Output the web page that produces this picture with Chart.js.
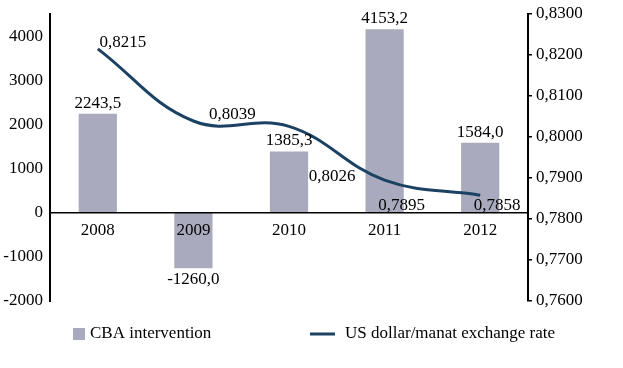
<!DOCTYPE html>
<html>
<head>
<meta charset="utf-8">
<script src="https://cdn.jsdelivr.net/npm/chart.js@4/dist/chart.umd.min.js"></script>
<style>
    html, body { margin: 0; padding: 0; background: #fff; }
    #wrap { width: 623px; height: 368px; }
</style>
</head>
<body>
<div id="wrap"><canvas id="chart"></canvas></div>
<script>
(function () {
    "use strict";

    const years = ["2008", "2009", "2010", "2011", "2012"];
    const intervention = [2243.5, -1260.0, 1385.3, 4153.2, 1584.0];
    const exchangeRate = [0.8215, 0.8039, 0.8026, 0.7895, 0.7858];
    const leftTicks = [-2000, -1000, 0, 1000, 2000, 3000, 4000];
    const rightTicks = [0.76, 0.77, 0.78, 0.79, 0.80, 0.81, 0.82, 0.83];

    // label offsets for the rate labels (moved by hand in the original)
    const rateLabelOffsets = [[25, -6], [39, -6], [43, 50], [17, 25], [17, 10]];

    const barColor = "#a9aabd";
    const lineColor = "#1c4263";
    const font = { family: "'Liberation Serif', 'Times New Roman', serif", size: 17 };
    const cssFont = font.size + "px " + font.family;

    const fmt = (v, d) => v.toFixed(d).replace(".", ",");

    const valueLabels = {
        id: "valueLabels",
        afterDatasetsDraw(chart) {
            const ctx = chart.ctx;
            ctx.save();
            ctx.font = cssFont;
            ctx.fillStyle = "#000";
            ctx.textAlign = "center";

            chart.getDatasetMeta(0).data.forEach((bar, i) => {
                const v = intervention[i];
                if (v >= 0) {
                    ctx.textBaseline = "bottom";
                    ctx.fillText(fmt(v, 1), bar.x, bar.y - 2);
                } else {
                    ctx.textBaseline = "top";
                    ctx.fillText(fmt(v, 1), bar.x, bar.y + 3);
                }
            });

            ctx.textBaseline = "middle";
            chart.getDatasetMeta(1).data.forEach((pt, i) => {
                const off = rateLabelOffsets[i];
                ctx.fillText(fmt(exchangeRate[i], 4), pt.x + off[0], pt.y + off[1]);
            });
            ctx.restore();
        },
    };

    // Legend spaced like the original (too wide for the built-in legend rows)
    const bottomLegend = {
        id: "bottomLegend",
        afterDraw(chart) {
            const ctx = chart.ctx;
            const y = 334;
            const sets = chart.data.datasets;
            ctx.save();
            ctx.font = cssFont;
            ctx.textBaseline = "middle";
            ctx.textAlign = "left";

            ctx.fillStyle = barColor;
            ctx.fillRect(73, y - 6, 12, 12);
            ctx.fillStyle = "#000";
            ctx.fillText(sets[0].label, 90, y);

            ctx.strokeStyle = lineColor;
            ctx.lineWidth = 3;
            ctx.beginPath();
            ctx.moveTo(310, y);
            ctx.lineTo(335, y);
            ctx.stroke();
            ctx.fillText(sets[1].label, 345, y);
            ctx.restore();
        },
    };

    const fitY = (width) => (scale) => {
        scale.width = width;
        scale.paddingTop = 14;
        scale.paddingBottom = 0;
    };
    const useTicks = (values) => (scale) => {
        scale.ticks = values.map((v) => ({ value: v }));
    };

    new Chart(document.getElementById("chart"), {
        data: {
            labels: years,
            datasets: [
                {
                    type: "bar",
                    label: "CBA intervention",
                    data: intervention,
                    yAxisID: "y",
                    backgroundColor: barColor,
                    barPercentage: 0.4,
                    categoryPercentage: 1,
                    order: 2,
                },
                {
                    type: "line",
                    label: "US dollar/manat exchange rate",
                    data: exchangeRate,
                    yAxisID: "y1",
                    borderColor: lineColor,
                    borderWidth: 3,
                    pointRadius: 0,
                    tension: 0.4,
                    fill: false,
                    order: 1,
                },
            ],
        },
        options: {
            responsive: true,
            maintainAspectRatio: false,
            animation: false,
            layout: {
                padding: { top: 0, right: 15, bottom: 67, left: 0 },
            },
            plugins: {
                legend: { display: false },
                tooltip: { enabled: false },
            },
            scales: {
                x: {
                    position: { y: 0 },
                    grid: { display: false, drawTicks: false },
                    border: { display: true, color: "#000", width: 1.5, z: 1 },
                    ticks: { font: font, color: "#000", padding: 8, z: 1 },
                },
                y: {
                    position: "left",
                    min: -2000,
                    max: 4500,
                    afterBuildTicks: useTicks(leftTicks),
                    afterFit: fitY(50),
                    grid: { display: false, drawTicks: false },
                    border: { display: true, color: "#000", width: 2 },
                    ticks: {
                        autoSkip: false,
                        font: font,
                        color: "#000",
                        padding: 7,
                        callback: (v) => String(v),
                    },
                },
                y1: {
                    position: "right",
                    min: 0.76,
                    max: 0.83,
                    afterBuildTicks: useTicks(rightTicks),
                    afterFit: fitY(80),
                    grid: { display: true, drawOnChartArea: false, tickLength: 4, color: "#000", lineWidth: 1.5 },
                    border: { display: true, color: "#000", width: 2 },
                    ticks: {
                        autoSkip: false,
                        font: font,
                        color: "#000",
                        padding: 4,
                        callback: (v) => fmt(v, 4),
                    },
                },
            },
        },
        plugins: [valueLabels, bottomLegend],
    });
})();
</script>
</body>
</html>
